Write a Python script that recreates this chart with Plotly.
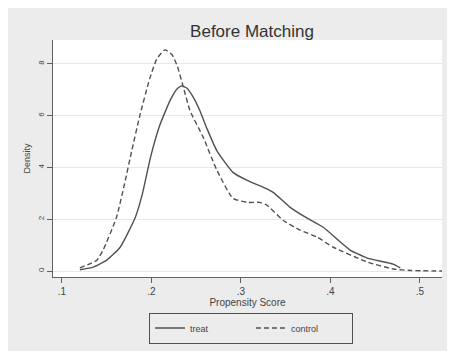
import plotly.graph_objects as go

treat_x = [0.12, 0.135, 0.150, 0.165, 0.182, 0.190, 0.199, 0.209, 0.221, 0.229, 0.234, 0.240, 0.246, 0.254, 0.262, 0.273,
           0.291, 0.307, 0.325, 0.336, 0.355, 0.374, 0.392, 0.410, 0.422, 0.441, 0.470, 0.478]
treat_y = [0.05, 0.15, 0.42, 0.92, 2.08, 3.0, 4.4, 5.6, 6.6, 7.05, 7.15, 7.05, 6.75, 6.2, 5.5, 4.65,
           3.81, 3.5, 3.23, 3.04, 2.46, 2.04, 1.69, 1.15, 0.81, 0.5, 0.27, 0.12]

control_x = [0.12, 0.139, 0.146, 0.161, 0.170, 0.178, 0.187, 0.198, 0.206, 0.215, 0.223, 0.229, 0.236, 0.243,
             0.258, 0.273, 0.291, 0.307, 0.321, 0.329, 0.347, 0.366, 0.385, 0.403, 0.441, 0.470, 0.490, 0.525]
control_y = [0.12, 0.42, 0.81, 2.08, 3.38, 4.65, 6.0, 7.42, 8.19, 8.54, 8.35, 7.9, 7.05, 6.2,
             5.15, 3.9, 2.81, 2.65, 2.65, 2.54, 1.96, 1.58, 1.31, 0.92, 0.35, 0.08, 0.02, 0.0]

x_ticks = [0.1, 0.2, 0.3, 0.4, 0.5]
x_ticklabels = [".1", ".2", ".3", ".4", ".5"]
y_ticks = [0, 2, 4, 6, 8]

W, H = 455, 351
OX, OY = 8, 8  # page body margin offset
L, T = 53 - OX, 40 - OY
R, B = W - (442 - OX), H - (277 - OY)
pw, ph = W - L - R, H - T - B

LINE = "#505050"
BG = "#ececec"
FONT = "Liberation Sans, Arial, sans-serif"

fig = go.Figure()
fig.add_trace(go.Scatter(x=treat_x, y=treat_y, mode="lines", name="treat",
                         line=dict(color=LINE, width=1.4, shape="spline", smoothing=0.5)))
fig.add_trace(go.Scatter(x=control_x, y=control_y, mode="lines", name="control",
                         line=dict(color=LINE, width=1.4, dash="5px,3px", shape="spline", smoothing=0.5)))

def px_x(p):
    return (p - OX - L) / pw

def px_y(p):
    return (H - B - (p - OY)) / ph

fig.update_layout(
    width=W, height=H,
    margin=dict(l=L, r=R, t=T, b=B, autoexpand=False),
    paper_bgcolor=BG, plot_bgcolor="white",
    font=dict(family=FONT, color="#404040"),
    title=dict(text="Before Matching", x=(252 - OX) / W, xanchor="center", xref="container",
               y=1 - (31 - OY) / H, yanchor="middle", yref="container", automargin=False,
               font=dict(size=17, color="#333333")),
    xaxis=dict(range=[0.09, 0.5246], tickvals=x_ticks, ticktext=x_ticklabels, automargin=False,
               showgrid=False, zeroline=False, showline=True, linecolor="#606060", linewidth=1,
               ticks="outside", ticklen=5, tickcolor="#606060", tickfont=dict(size=10, color="#444444"),
               title=dict(text="Propensity Score", font=dict(size=10, color="#444444"), standoff=2)),
    yaxis=dict(range=[-0.23, 8.92], tickvals=y_ticks, tickangle=-90, automargin=False,
               showgrid=True, gridcolor="#e8e8e8", gridwidth=1, zeroline=False,
               showline=True, linecolor="#606060", linewidth=1,
               ticks="outside", ticklen=5, tickcolor="#606060", tickfont=dict(size=8, color="#444444"),
               title=dict(text="Density", font=dict(size=9, color="#444444"), standoff=4)),
    legend=dict(orientation="h", x=px_x(251), xanchor="center", y=px_y(328), yanchor="middle",
                bgcolor=BG, bordercolor="#505050", borderwidth=1,
                font=dict(size=9, color="#444444"), entrywidth=56, itemwidth=30),
    showlegend=True,
)

fig.write_html("out.html")
